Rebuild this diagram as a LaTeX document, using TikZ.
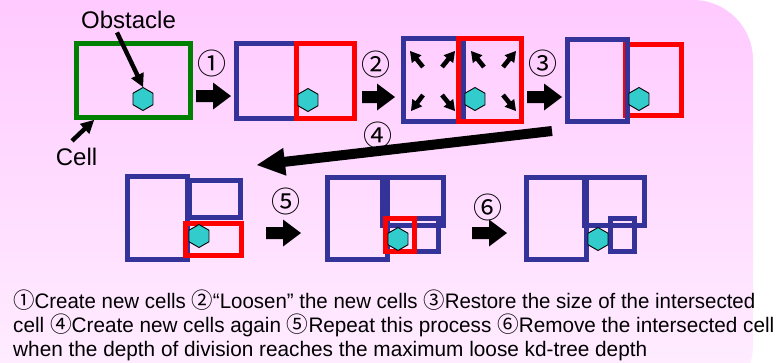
\documentclass[tikz,border=0pt]{standalone}
\usepackage{fontspec}
\usepackage{graphicx}
\setmainfont{Liberation Sans}
\newfontfamily\cdfont{Noto Sans CJK SC}
\newcommand\cnum[1]{{\cdfont\fontsize{22}{24}\selectfont #1}}
\usetikzlibrary{calc,fit,shapes.geometric}
\definecolor{cellblue}{RGB}{51,51,153}
\definecolor{cellgreen}{RGB}{0,128,0}
\definecolor{obstcyan}{RGB}{51,204,204}
\definecolor{pinktop}{RGB}{255,202,255}
\definecolor{pinkbot}{RGB}{255,240,255}
% #1 start, #2 end, #3 shaft half width, #4 head half width, #5 head length
\newcommand\blockarrow[5]{%
  \coordinate (ba-h) at ($(#2)!#5!(#1)$);
  \fill[black] ($(#1)!#3!90:(#2)$) -- ($(ba-h)!#3!-90:(#1)$) -- ($(ba-h)!#4!-90:(#1)$)
    -- (#2) -- ($(ba-h)!#4!90:(#1)$) -- ($(ba-h)!#3!90:(#1)$) -- ($(#1)!#3!-90:(#2)$) -- cycle;}
\tikzset{
  cellbox/.style={draw, line width=4.5pt, inner sep=0pt, outer sep=0pt},
  bluecell/.style={cellbox, draw=cellblue},
  redcell/.style={cellbox, draw=red},
  greencell/.style={cellbox, draw=cellgreen},
  obst/.style={regular polygon, regular polygon sides=6, regular polygon rotate=30,
    minimum size=23pt, inner sep=0pt, fill=obstcyan, draw=black, line width=0.9pt},
  numlabel/.style={font=\cdfont\fontsize{29}{29}\selectfont, inner sep=0pt},
  biglabel/.style={font=\fontsize{24}{28}\selectfont, inner sep=0pt},
  bodyline/.style={font=\fontsize{21}{24}\selectfont, inner sep=0pt, anchor=base west},
}
\begin{document}
\begin{tikzpicture}[x=1pt,y=-1pt]
\useasboundingbox (0,0) rectangle (777,362);
\begin{scope}
  \clip (0,0) rectangle (777,362);
  \fill[white] (0,0) rectangle (777,362);
  \shade[top color=pinktop, bottom color=pinkbot, rounded corners=60pt] (-80,0) rectangle (753,405);
\end{scope}

% ---- top row ----
\node[greencell, fit={(76.5,43.5)(190.5,117.5)}] (g) {};
\node[obst] (h1) at (143,99) {};
\node[biglabel, anchor=base] (obstlbl) at (128.5,28) {Obstacle};
\node[biglabel, anchor=base] (celllbl) at (76.5,165) {Cell};
\coordinate (ot) at ($(obstlbl.south)+(-11.5,4)$);
\blockarrow{ot}{h1.north}{2.2pt}{7pt}{13pt}
\coordinate (ct) at ($(celllbl.north)+(-4.5,-6.5)$);
\coordinate (ch) at ($(g.south west)+(17.5,2.5)$);
\blockarrow{ct}{ch}{2.2pt}{7pt}{13pt}

\coordinate (a1s) at (196,96); \coordinate (a1e) at (231,96);
\blockarrow{a1s}{a1e}{6pt}{13.5pt}{18pt}
\node[numlabel] (n1) at (211.5,63.5) {①};

\node[bluecell, fit={(236.5,43.5)(296.5,118.5)}] (b1) {};
\node[redcell, fit={(296.5,43.5)(354.5,118.5)}] (r1) {};
\node[obst] (h2) at (308,100) {};

\coordinate (a2s) at (362,97); \coordinate (a2e) at (395,97);
\blockarrow{a2s}{a2e}{6pt}{13.5pt}{18pt}
\node[numlabel] (n2) at (376,64) {②};

\node[bluecell, fit={(403.5,38.5)(463.5,121.5)}] (b2) {};
\node[redcell, fit={(458.5,38.5)(521.5,121.5)}] (r2) {};
% loosening arrows
\coordinate (l1t) at (410,51);  \coordinate (l1s) at (423,67);
\coordinate (l2t) at (455,51);  \coordinate (l2s) at (442,67);
\coordinate (l3t) at (411,111); \coordinate (l3s) at (423,95);
\coordinate (l4t) at (455,111); \coordinate (l4s) at (442,95);
\coordinate (l5t) at (471,51);  \coordinate (l5s) at (484,67);
\coordinate (l6t) at (516,51);  \coordinate (l6s) at (503,67);
\coordinate (l7t) at (516,111); \coordinate (l7s) at (503,95);
\coordinate (l8t) at (469,107); \coordinate (l8s) at (481,93);
\blockarrow{l1s}{l1t}{2.3pt}{6.2pt}{10.5pt}
\blockarrow{l2s}{l2t}{2.3pt}{6.2pt}{10.5pt}
\blockarrow{l3s}{l3t}{2.3pt}{6.2pt}{10.5pt}
\blockarrow{l4s}{l4t}{2.3pt}{6.2pt}{10.5pt}
\blockarrow{l5s}{l5t}{2.3pt}{6.2pt}{10.5pt}
\blockarrow{l6s}{l6t}{2.3pt}{6.2pt}{10.5pt}
\blockarrow{l7s}{l7t}{2.3pt}{6.2pt}{10.5pt}
\blockarrow{l8s}{l8t}{2.3pt}{6.2pt}{10.5pt}
\node[obst] (h3) at (475,99) {};

\coordinate (a3s) at (527,97); \coordinate (a3e) at (562,97);
\blockarrow{a3s}{a3e}{6pt}{13.5pt}{18pt}
\node[numlabel] (n3) at (543,63.5) {③};

\node[redcell, fit={(625.5,44.5)(681.5,115.5)}] (r3) {};
\node[bluecell, fit={(567.5,39.5)(627.5,121.5)}] (b3) {};
\node[obst] (h4) at (639,99) {};

% ---- long arrow ----
\coordinate (a4s) at (552,131); \coordinate (a4e) at (257,165);
\blockarrow{a4s}{a4e}{5pt}{14pt}{28pt}
\node[numlabel] (n4) at (378,135) {④};

% ---- bottom row ----
\node[bluecell, fit={(127.5,176.5)(187.5,259.5)}] (bA1) {};
\node[bluecell, fit={(189.5,180.5)(240.5,217.5)}] (bA2) {};
\node[redcell, fit={(185.5,223.5)(241.5,255.5)}] (rA) {};
\node[obst] (h5) at (199,236) {};

\coordinate (a5s) at (266,233); \coordinate (a5e) at (301,233);
\blockarrow{a5s}{a5e}{6pt}{13.5pt}{18pt}
\node[numlabel] (n5) at (285.5,201) {⑤};

\node[bluecell, fit={(327.5,177.5)(387.5,259.5)}] (bB1) {};
\node[bluecell, fit={(382.5,177.5)(443.5,225.5)}] (bB2) {};
\node[bluecell, fit={(414.5,218.5)(438.5,251.5)}] (bB3) {};
\node[redcell, fit={(385.5,218.5)(414.5,251.5)}] (rB) {};
\node[obst] (h6) at (398,239) {};

\coordinate (a6s) at (472,233); \coordinate (a6e) at (507,233);
\blockarrow{a6s}{a6e}{6pt}{13.5pt}{18pt}
\node[numlabel] (n6) at (487.5,207) {⑥};

\node[bluecell, fit={(526.5,177.5)(586.5,259.5)}] (bC1) {};
\node[bluecell, fit={(584.5,177.5)(644.5,225.5)}] (bC2) {};
\node[bluecell, fit={(610.5,218.5)(634.5,251.5)}] (bC3) {};
\node[obst] (h7) at (598,239) {};

% ---- caption ----
\node[bodyline] (t1) at (13,308) {\resizebox{742pt}{\height}{\cnum{①}Create new cells \cnum{②}“Loosen” the new cells \cnum{③}Restore the size of the intersected}};
\node[bodyline] (t2) at (13,332) {\resizebox{761pt}{\height}{cell \cnum{④}Create new cells again \cnum{⑤}Repeat this process \cnum{⑥}Remove the intersected cell}};
\node[bodyline] (t3) at (13,356) {\resizebox{634pt}{\height}{when the depth of division reaches the maximum loose kd-tree depth}};
\end{tikzpicture}
\end{document}
